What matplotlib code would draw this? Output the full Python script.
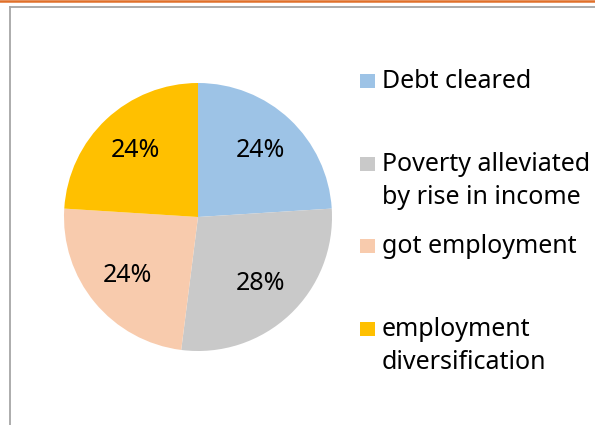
import matplotlib.pyplot as plt
from matplotlib.lines import Line2D
from matplotlib.patches import Rectangle

# Datos del gráfico
categorias = ['Debt cleared', 'Poverty alleviated\nby rise in income',
              'got employment', 'employment\ndiversification']
porcentajes = [24, 28, 24, 24]
colores = ['#9DC3E6', '#C9C9C9', '#F8CBAD', '#FFC000']

fuente = dict(family='Noto Sans', size=18)

W, H = 595, 425
fig = plt.figure(figsize=(W / 100, H / 100), dpi=100)

# Línea naranja superior y marco gris del área del gráfico
fig.add_artist(Line2D([0, 1], [1 - 1.2 / H, 1 - 1.2 / H], color='#E0702A', lw=1.8))
fig.add_artist(Line2D([9.5 / W, 9.5 / W], [0, 1 - 7 / H], color='#A6A6A6', lw=1.3))
fig.add_artist(Line2D([9.5 / W, 1], [1 - 7 / H, 1 - 7 / H], color='#A6A6A6', lw=1.3))

# Pastel: centro (198, 217) px, radio 134 px
cx, cy, r = 198, 217, 134
ax = fig.add_axes([(cx - r) / W, (H - cy - r) / H, 2 * r / W, 2 * r / H])
ax.pie(porcentajes, colors=colores, startangle=90, counterclock=False,
       autopct='%1.0f%%', pctdistance=0.68, radius=1,
       textprops=dict(color='black', **fuente))
ax.set_xlim(-1, 1)
ax.set_ylim(-1, 1)
ax.set_aspect('equal')
ax.axis('off')

# Leyenda a la derecha (línea base de la primera línea de cada entrada, en px)
bases = [88, 171, 253, 336]
interlinea = 33
for cat, col, yb in zip(categorias, colores, bases):
    fig.add_artist(Rectangle((360 / W, (H - yb) / H), 15 / W, 14 / H,
                             facecolor=col, edgecolor='none',
                             transform=fig.transFigure))
    for i, linea in enumerate(cat.split('\n')):
        fig.text(382 / W, (H - yb - i * interlinea) / H, linea,
                 va='baseline', ha='left', color='black', **fuente)

fig.savefig('out.png', dpi=100)
